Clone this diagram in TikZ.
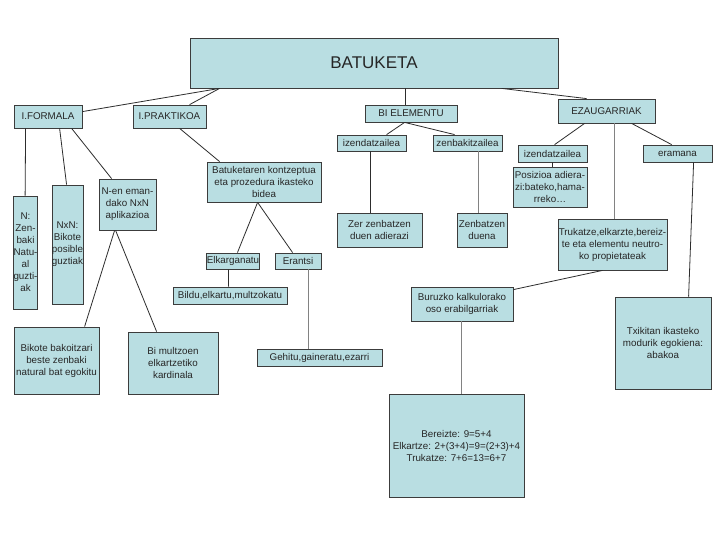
\documentclass[tikz,border=0pt]{standalone}
\usepackage{fontspec}
\setmainfont{Liberation Sans}
\definecolor{boxfill}{RGB}{185,222,226}
\definecolor{boxline}{RGB}{60,60,60}
\definecolor{lnk}{RGB}{45,45,45}
\definecolor{lnkgray}{RGB}{130,130,130}
\tikzset{
  box/.style={draw=boxline, fill=boxfill, line width=0.8pt, inner sep=0pt, align=center,
    font=\fontsize{9.8}{12}\selectfont, text=black!85},
  link/.style={draw=lnk, line width=0.8pt},
  glink/.style={draw=lnkgray, line width=1pt}
}
\newcommand\bx[7][]{\node[box,#1,minimum width={#5-#3},minimum height={#6-#4}] (#2) at ({(#3+#5)/2},{(#4+#6)/2}) {#7};}
\begin{document}
\begin{tikzpicture}[x=1pt,y=-1pt]
\useasboundingbox (0,0) rectangle (720,540);
\fill[white] (0,0) rectangle (720,540);
% boxes
\bx[font=\fontsize{17}{20}\selectfont]{bat}{190}{38}{558}{88}{BATUKETA}
\bx{form}{14}{105}{82}{128}{I.FORMALA}
\bx{prak}{133}{105}{206}{128}{I.PRAKTIKOA}
\bx{bi}{365}{105}{457}{122}{BI ELEMENTU}
\bx{ezau}{558}{99}{655}{123}{EZAUGARRIAK}
\bx{izA}{337}{135}{406}{151}{izendatzailea}
\bx{zenb}{433}{135}{502}{151}{zenbakitzailea}
\bx{zer}{337}{213}{422}{247}{Zer zenbatzen\\duen adierazi}
\bx{zbd}{457}{213}{507}{247}{Zenbatzen\\duena}
\bx{izB}{518}{145}{587}{162}{izendatzailea}
\bx{eram}{643}{145}{712}{162}{eramana}
\bx{posi}{513}{167}{587}{207}{Posizioa adiera-\\zi:bateko,hama-\\rreko…}
\bx{truk}{558}{219}{667}{270}{Trukatze,elkarzte,bereiz-\\te eta elementu neutro-\\ko propietateak}
\bx{txik}{615}{297}{711}{389}{Txikitan ikasteko\\modurik egokiena:\\abakoa}
\bx{buru}{411}{287}{513}{321}{Buruzko kalkulorako\\oso erabilgarriak}
\bx{bere}{389}{394}{524}{497}{Bereizte: 9=5+4\\Elkartze: 2+(3+4)=9=(2+3)+4\\Trukatze: 7+6=13=6+7}
\bx{nbox}{14}{196}{37}{309}{N:\\Zen-\\baki\\Natu-\\al\\guzti-\\ak}
\bx{nxn}{53}{185}{82}{304}{NxN:\\Bikote\\posible\\guztiak}
\bx{nen}{99}{179}{156}{230}{N-en eman-\\dako NxN\\aplikazioa}
\bx{bik}{14}{327}{99}{394}{Bikote bakoitzari\\beste zenbaki\\natural bat egokitu}
\bx{bim}{128}{332}{218}{394}{Bi multzoen\\elkartzetiko\\kardinala}
\bx{batk}{207}{162}{321}{202}{Batuketaren kontzeptua\\eta prozedura ikasteko\\bidea}
\bx{elk}{207}{253}{259}{269}{Elkarganatu}
\bx{era}{275}{253}{321}{269}{Erantsi}
\bx{bild}{173}{287}{287}{304}{Bildu,elkartu,multzokatu}
\bx{gehi}{257}{349}{382}{366}{Gehitu,gaineratu,ezarri}
% connectors
\draw[link] ([yshift=-7pt]form.north east) -- ([xshift=30pt]bat.south west);
\draw[link] ([xshift=57pt]prak.north west) -- ([xshift=30pt]bat.south west);
\draw[link] ([xshift=216pt]bat.south west) -- ([xshift=41pt]bi.north west);
\draw[link] ([xshift=312pt]bat.south west) -- ([xshift=29pt]ezau.north west);
\draw[link] ([xshift=40pt]bi.south west) -- ([xshift=50pt]izA.north west);
\draw[link] ([xshift=40pt]bi.south west) -- ([xshift=22pt]zenb.north west);
\draw[link] ([xshift=34pt]izA.south west) -- ([xshift=34pt]zer.north west);
\draw[glink] ([xshift=46pt]zenb.south west) -- ([xshift=22pt]zbd.north west);
\draw[link] ([xshift=27pt]ezau.south west) -- ([xshift=37pt]izB.north west);
\draw[glink] ([xshift=57pt]ezau.south west) -- ([xshift=57pt]truk.north west);
\draw[link] ([xshift=74pt]ezau.south west) -- ([xshift=29pt]eram.north west);
\draw[link] ([xshift=35pt]izB.south west) -- ([xshift=40pt]posi.north west);
\draw[link] ([xshift=51pt]eram.south west) -- ([xshift=74pt]txik.north west);
\draw[link] ([xshift=45pt]truk.south west) -- ([yshift=-3pt]buru.north east);
\draw[glink] ([xshift=51pt]buru.south west) -- ([xshift=73pt]bere.north west);
\draw[link] ([xshift=12pt]form.south west) -- ([xshift=12pt]nbox.north west);
\draw[link] ([xshift=46pt]form.south west) -- ([xshift=15pt]nxn.north west);
\draw[link] ([xshift=58pt]form.south west) -- ([xshift=13pt]nen.north west);
\draw[link] ([xshift=16pt]nen.south west) -- ([xshift=71pt]bik.north west);
\draw[link] ([xshift=17pt]nen.south west) -- ([xshift=29pt]bim.north west);
\draw[link] ([xshift=47pt]prak.south west) -- ([xshift=13pt]batk.north west);
\draw[link] ([xshift=51pt]batk.south west) -- ([xshift=31pt]elk.north west);
\draw[link] ([xshift=51pt]batk.south west) -- ([xshift=18pt]era.north west);
\draw[link] ([xshift=22pt]elk.south west) -- ([xshift=56pt]bild.north west);
\draw[glink] ([xshift=34pt]era.south west) -- ([xshift=52pt]gehi.north west);
\end{tikzpicture}
\end{document}
